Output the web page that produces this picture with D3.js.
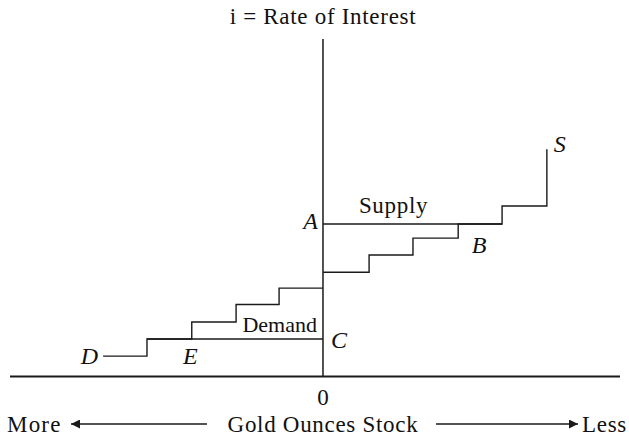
<!DOCTYPE html>
<html>
<head>
<meta charset="utf-8">
<script src="https://cdn.jsdelivr.net/npm/d3@7"></script>
<style>
  html, body { margin: 0; padding: 0; background: #fff; }
  svg { display: block; }
</style>
</head>
<body>
<svg id="chart" width="629" height="438"></svg>
<script>
// ---- data (quantity units left/right of zero, interest-rate units) ----
const supplyQty  = [0, 1.04, 2.03, 3.05, 4.04, 5.05];
const supplyRate = [6.18, 7.2, 8.2, 9.04, 10.1, 13.47];
const demandQty  = [-4.96, -3.97, -2.96, -1.96, -0.99, 0];
const demandRate = [1.21, 2.22, 3.23, 4.27, 5.24, 5.24];
const rateA = 9.04;        // line from A across to the supply step
const lineAEnd = 4.04;
const rateC = 2.22;        // line from C back to demand step
const lineCStart = -3.97;
const pointLabels = ["A", "B", "C", "D", "E", "S"];
const titleText = "i = Rate of Interest";
const xTitle = "Gold Ounces Stock";
const zeroLabel = "0";
const leftLabel = "More";
const rightLabel = "Less";

const FONT = "'Liberation Serif', 'Times New Roman', 'DejaVu Serif', serif";

const svg = d3.select("#chart");
const x = d3.scaleLinear().domain([-7.06, 6.7]).range([10, 620]);
const y = d3.scaleLinear().domain([0, 20]).range([376.5, 39]);

const ink = "#1a1a1a";

// axes
svg.append("line").attr("x1", x.range()[0]).attr("x2", x.range()[1])
  .attr("y1", y(0)).attr("y2", y(0)).attr("stroke", ink).attr("stroke-width", 2);
svg.append("line").attr("x1", x(0)).attr("x2", x(0))
  .attr("y1", y(20)).attr("y2", y(0)).attr("stroke", ink).attr("stroke-width", 1.5);

const step = d3.line().x(d => x(d[0])).y(d => y(d[1])).curve(d3.curveStepAfter);

// supply staircase
svg.append("path").datum(supplyQty.map((q, i) => [q, supplyRate[i]]))
  .attr("d", step).attr("fill", "none").attr("stroke", ink).attr("stroke-width", 1.4);
// A line
svg.append("path").datum([[0, rateA], [lineAEnd, rateA]])
  .attr("d", step).attr("fill", "none").attr("stroke", ink).attr("stroke-width", 1.4);
// demand staircase
svg.append("path").datum(demandQty.map((q, i) => [q, demandRate[i]]))
  .attr("d", step).attr("fill", "none").attr("stroke", ink).attr("stroke-width", 1.4);
// C line
svg.append("path").datum([[lineCStart, rateC], [0, rateC]])
  .attr("d", step).attr("fill", "none").attr("stroke", ink).attr("stroke-width", 1.4);

const txt = (t, px, py, anchor, italic, ls, size) => svg.append("text")
  .attr("x", px).attr("y", py).attr("text-anchor", anchor || "start")
  .attr("font-family", FONT).attr("font-size", size || 23).attr("fill", "#111")
  .attr("letter-spacing", ls === undefined ? 0.7 : ls)
  .attr("font-style", italic ? "italic" : "normal").text(t);

// title
txt(titleText, x(0), 24, "middle");

// curve labels
txt("Supply", x(0.81), y(rateA) - 11, "start");
txt("Demand", x(0) - 6, y(demandRate[1]) - 7, "end", false, 0, 22);

// point letters
txt(pointLabels[0], x(0) - 5, y(rateA) + 5, "end", true, 0, 24);
txt(pointLabels[1], x(3.52), y(supplyRate[2]) + 15, "middle", true, 0, 24);
txt(pointLabels[2], x(0) + 8, y(rateC) + 9, "start", true, 0, 24);
txt(pointLabels[3], x(demandQty[0]) - 5, y(demandRate[0]) + 8, "end", true, 0, 24);
txt(pointLabels[4], x(-2.99), y(demandRate[0]) + 8, "middle", true, 0, 24);
txt(pointLabels[5], x(supplyQty[5]) + 7, y(supplyRate[5]) + 3, "start", true, 0, 24);

// bottom labels
txt(zeroLabel, x(0), 405, "middle", false, 0);
txt(xTitle, x(0), 432, "middle");
txt(leftLabel, 7, 432, "start", false, 1.2);
txt(rightLabel, 627, 432, "end");

// arrows
const defs = svg.append("defs");
defs.append("marker").attr("id", "ah").attr("viewBox", "0 0 10 10")
  .attr("refX", 10).attr("refY", 5).attr("markerWidth", 12).attr("markerHeight", 9)
  .attr("markerUnits", "userSpaceOnUse").attr("orient", "auto")
  .append("path").attr("d", "M0,0L10,5L0,10Z").attr("fill", ink);
svg.append("line").attr("x1", 207).attr("x2", 71).attr("y1", 424).attr("y2", 424)
  .attr("stroke", ink).attr("stroke-width", 1.3).attr("marker-end", "url(#ah)");
svg.append("line").attr("x1", 436).attr("x2", 578).attr("y1", 424).attr("y2", 424)
  .attr("stroke", ink).attr("stroke-width", 1.3).attr("marker-end", "url(#ah)");
</script>
</body>
</html>
